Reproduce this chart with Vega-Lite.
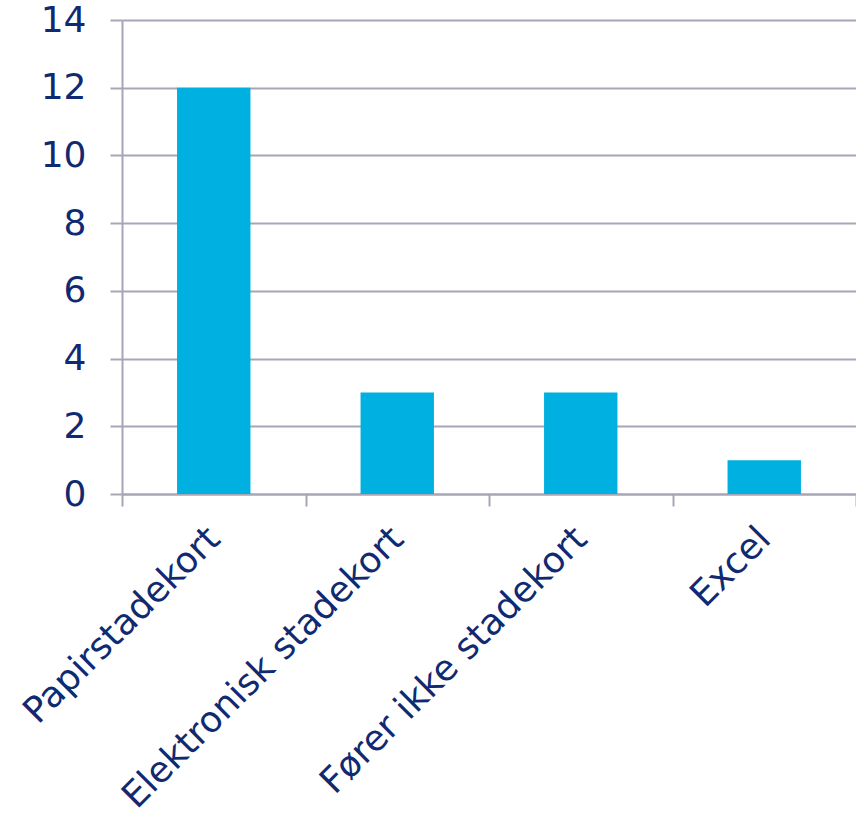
{
  "$schema": "https://vega.github.io/schema/vega-lite/v6.json",
  "width": 734,
  "height": 474,
  "autosize": {"type": "none"},
  "padding": {"left": 122, "top": 20, "right": 0, "bottom": 334},
  "background": "white",
  "config": {"view": {"stroke": null}},
  "data": {"values": [
    {"kategori": "Papirstadekort", "antal": 12},
    {"kategori": "Elektronisk stadekort", "antal": 3},
    {"kategori": "Fører ikke stadekort", "antal": 3},
    {"kategori": "Excel", "antal": 1}
  ]},
  "mark": {"type": "bar", "color": "#00B0E0", "width": {"band": 0.4}},
  "encoding": {
    "x": {
      "field": "kategori", "type": "nominal", "sort": null,
      "scale": {"paddingInner": 0, "paddingOuter": 0},
      "axis": {
        "title": null, "labelAngle": -45, "labelAlign": "right", "labelBaseline": "middle",
        "labelFont": "DejaVu Sans", "labelFontSize": 36, "labelColor": "#102A72",
        "labelPadding": 27, "tickBand": "extent", "tickSize": 12, "tickColor": "#A6A6B6", "tickWidth": 2,
        "domainColor": "#A6A6B6", "domainWidth": 2, "grid": false, "labelLimit": 1000
      }
    },
    "y": {
      "field": "antal", "type": "quantitative",
      "scale": {"domain": [0, 14]},
      "axis": {
        "title": null, "values": [0, 2, 4, 6, 8, 10, 12, 14],
        "labelFont": "DejaVu Sans", "labelFontSize": 36, "labelColor": "#102A72",
        "tickSize": 12, "tickColor": "#A6A6B6", "tickWidth": 2, "labelPadding": 24,
        "domainColor": "#A6A6B6", "domainWidth": 2,
        "grid": true, "gridColor": "#A6A6B6", "gridWidth": 2
      }
    }
  }
}
